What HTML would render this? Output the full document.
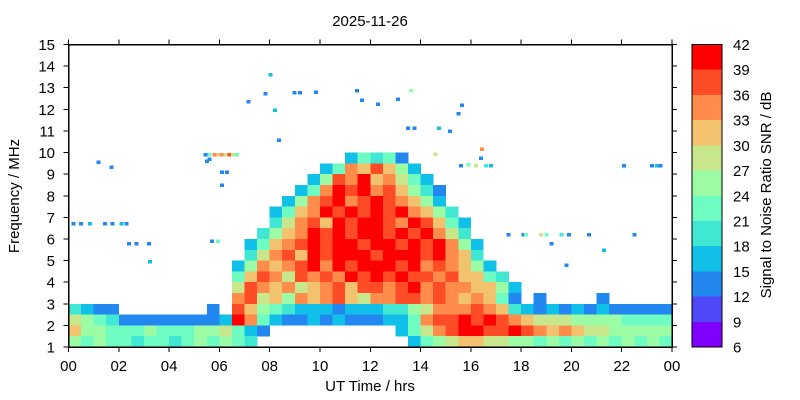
<!DOCTYPE html>
<html><head><meta charset="utf-8">
<style>
html,body{margin:0;padding:0;background:#fff;}
svg{display:block;font-family:"Liberation Sans",sans-serif;}
</style></head>
<body>
<svg id="chart" width="800" height="400" viewBox="0 0 800 400">
  <rect x="0" y="0" width="800" height="400" fill="#fff"/>
  <text x="370" y="26" text-anchor="middle" font-size="15">2025-11-26</text>
  <g id="cells" shape-rendering="crispEdges"></g>
  <g id="dots" shape-rendering="crispEdges"></g>
  <g id="axes" shape-rendering="crispEdges"></g>
  <g id="cbar" shape-rendering="crispEdges"></g>
  <text x="370" y="391" text-anchor="middle" font-size="15">UT Time / hrs</text>
  <text transform="translate(19,196) rotate(-90)" text-anchor="middle" font-size="15">Frequency / MHz</text>
  <text transform="translate(771,195) rotate(-90)" text-anchor="middle" font-size="15">Signal to Noise Ratio SNR / dB</text>
</svg>
<script>
// ---- data ----
const colorLevels = ["#8000ff","#5048f8","#2288f0","#10c0e8","#40e8d4","#6ffcc2","#9cfca6","#c8e68c","#f2c26e","#ff8c4a","#ff4b26","#ff0000"];
const colorTicks = [6,9,12,15,18,21,24,27,30,33,36,39,42];
const xTickLabels = ["00","02","04","06","08","10","12","14","16","18","20","22","00"];
const yTickLabels = [1,2,3,4,5,6,7,8,9,10,11,12,13,14,15];
// grid: rows from 15 MHz down in 0.5 MHz steps, columns are half-hour bins; '.'=no data, 1..9,A,B,C = colour level
const gridRows = [
"........ ........ ........ ........ ........ ........",
"........ ........ ........ ........ ........ ........",
"........ ........ ........ ........ ........ ........",
"........ ........ ........ ........ ........ ........",
"........ ........ ........ ........ ........ ........",
"........ ........ ........ ........ ........ ........",
"........ ........ ........ ........ ........ ........",
"........ ........ ........ ........ ........ ........",
"........ ........ ........ ........ ........ ........",
"........ ........ ........ ........ ........ ........",
"........ ........ ......46 563..... ........ ........",
"........ ........ ....46A9 B974.... ........ ........",
"........ ........ ...47BAC 9A864... ........ ........",
"........ ........ ..46ACBC AB9753.. ........ ........",
"........ ........ .47ABCAB CBA974.. ........ ........",
"........ ........ 469ACBCB CBCA975. ........ ........",
"........ ........ 58AB9CBC CBACB964 ........ ........",
"........ .......5 79ACBCBC CBCBCA85 ........ ........",
"........ ......46 9ABCBCCB CCBCBCA7 4....... ........",
"........ ......58 AB9CBCCC BCCCBCA9 5....... ........",
"........ .....47A 9ABCACBC CCBCABA9 74...... ........",
"........ .....69B A8BABACB CBCBBAB9 965..... ........",
"........ .....8BA 9A89AB9B BABCABAA 9974.... ........",
"........ .....AB8 97A9AB98 AABBABA9 A963.3.. ..3.....",
"5433.... ...3.B97 65444344 45578AAA BA954343 43433333",
"87653333 33334CA6 43343433 3446ABBC BCBA9888 77776666",
"97766676 66778643 ........ ..468ABC CBBCBA9A 98877777",
"76766566 5676765. ........ ...46789 98877676 76767676"
];
// sporadic points
const dotHours = [8.03,7.15,7.83,8.22,8.98,9.2,9.85,11.48,11.68,12.3,13.1,13.63,13.5,13.75,14.74,15.17,14.6,15.5,15.65,16.45,16.4,1.19,1.71,8.38,
5.45,5.6,5.8,5.95,6.1,6.25,6.4,6.55,6.7,5.5,5.6,6.1,6.3,6.1,
0.2,0.5,0.85,1.45,1.75,2.1,2.3,2.4,2.7,3.2,3.25,5.7,5.95,
15.6,15.9,16.2,16.6,16.8,17.5,18.1,18.2,18.8,19.0,19.6,19.9,19.2,20.7,21.3,22.5,19.8,22.1,23.2,23.4,23.55];
const dotFreqs = [13.62,12.37,12.74,11.96,12.79,12.79,12.8,12.88,12.42,12.24,12.47,12.88,11.13,11.13,11.13,11.0,9.93,11.8,12.2,10.16,9.75,9.57,9.33,10.58,
9.9,9.9,9.9,9.9,9.9,9.9,9.9,9.9,9.9,9.6,9.7,9.1,9.1,8.5,
6.72,6.72,6.72,6.72,6.72,6.72,6.72,5.8,5.8,5.8,4.95,5.9,5.9,
9.4,9.45,9.4,9.4,9.4,6.2,6.2,6.2,6.2,6.2,6.2,6.2,5.8,6.2,5.5,6.2,4.8,9.4,9.4,9.4,9.4];
const dotLevels = [4,3,3,4,3,3,3,3,3,3,3,7,3,3,4,3,8,3,3,10,3,3,3,3,
3,6,10,9,10,8,11,8,6,3,3,3,3,3,
3,3,4,3,3,4,3,3,3,3,4,3,6,
3,6,8,5,4,3,3,6,8,6,5,3,3,3,4,3,3,3,3,4,3];

// ---- scales ----
const X0=68.5, X1=672, Y0=44.5, Y1=347;
const xs = h => X0 + (X1-X0)*h/24;
const ys = f => Y1 - (Y1-Y0)*(f-1)/14;
const NS="http://www.w3.org/2000/svg";
function mk(tag, attrs, parent){const e=document.createElementNS(NS,tag);for(const k in attrs)e.setAttribute(k,attrs[k]);parent.appendChild(e);return e;}
const codes="123456789ABC";

const cellsG=document.getElementById('cells');
gridRows.forEach((rowStr,r)=>{
  const row=rowStr.replace(/ /g,'');
  const fTop=15-0.5*r, fBot=fTop-0.5;
  for(let c=0;c<row.length;c++){
    const lv=codes.indexOf(row[c]);
    if(lv<0) continue;
    const h0=c/2,h1=c/2+0.5;
    const el=mk('rect',{x:xs(h0),y:ys(fTop),width:xs(h1)-xs(h0)+0.3,height:ys(fBot)-ys(fTop)+0.3,fill:colorLevels[lv]},cellsG);
    
    
  }
});
const dotsG=document.getElementById('dots');
dotHours.forEach((h,i)=>{
  const el=mk('rect',{x:xs(h)-2,y:ys(dotFreqs[i])-1.5,width:4,height:3.5,fill:colorLevels[dotLevels[i]-1]},dotsG);
  
  
});

// axes
const ax=document.getElementById('axes');
mk('rect',{x:X0,y:Y0,width:X1-X0,height:Y1-Y0,fill:'none',stroke:'#000','stroke-width':1.5},ax);
xTickLabels.forEach((lab,i)=>{
  const x=xs(i*2);
  mk('line',{x1:x,x2:x,y1:Y1,y2:Y1+5,stroke:'#000'},ax);
  mk('line',{x1:x,x2:x,y1:Y0,y2:Y0-5,stroke:'#000'},ax);
  const t=mk('text',{x:x,y:Y1+24,'text-anchor':'middle','font-size':15},ax);
  t.textContent=lab;
  
  
});
yTickLabels.forEach(v=>{
  const y=ys(v);
  mk('line',{x1:X0-5,x2:X0,y1:y,y2:y,stroke:'#000'},ax);
  mk('line',{x1:X1,x2:X1+5,y1:y,y2:y,stroke:'#000'},ax);
  const t=mk('text',{x:55,y:y+5.5,'text-anchor':'end','font-size':15},ax);
  t.textContent=v;
  
  
});

// colorbar
const cb=document.getElementById('cbar');
const CX0=692, CX1=722;
const cy = v => Y1 - (Y1-Y0)*(v-6)/36;
colorLevels.forEach((col,i)=>{
  const el=mk('rect',{x:CX0,y:cy(colorTicks[i+1]),width:CX1-CX0,height:cy(colorTicks[i])-cy(colorTicks[i+1]),fill:col},cb);
  
  
});
mk('rect',{x:CX0,y:Y0,width:CX1-CX0,height:Y1-Y0,fill:'none',stroke:'#000','stroke-width':1},cb);
colorTicks.forEach(v=>{
  const t=mk('text',{x:733,y:cy(v)+5.5,'font-size':15},cb);
  t.textContent=v;
  
  
});
</script>
</body></html>
